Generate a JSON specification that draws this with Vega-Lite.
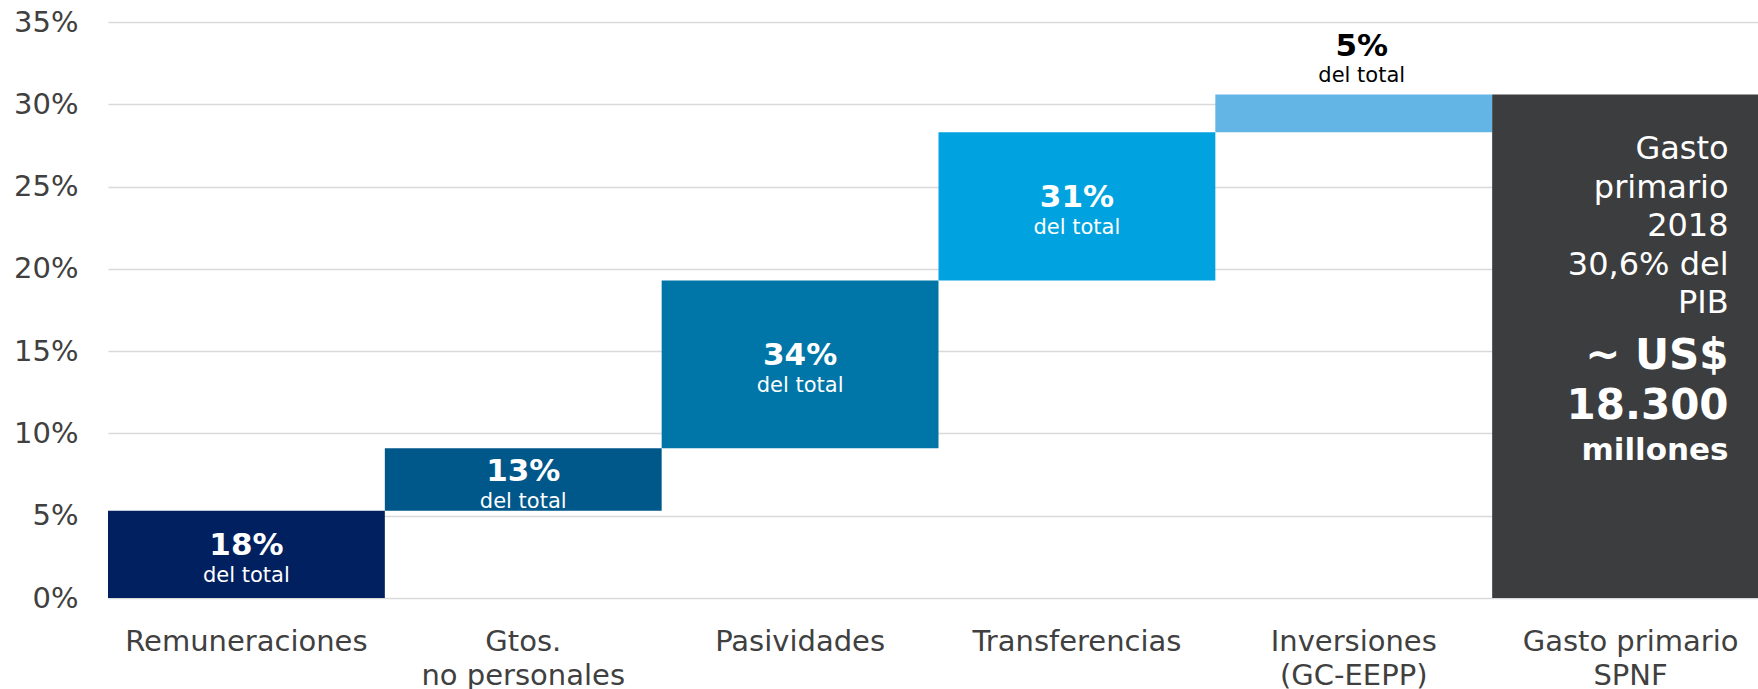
{
  "$schema": "https://vega.github.io/schema/vega-lite/v6.json",
  "autosize": {"type": "none"},
  "padding": {"left": 108, "top": 22, "right": 0, "bottom": 91},
  "width": 1650,
  "height": 576,
  "background": "white",
  "config": {
    "view": {"stroke": null},
    "font": "DejaVu Sans",
    "text": {"font": "DejaVu Sans"}
  },
  "data": {
    "values": [
      {"cat": "Remuneraciones", "start": 0, "end": 5.3, "pct": "18%"},
      {"cat": "Gtos. no personales", "start": 5.3, "end": 9.1, "pct": "13%"},
      {"cat": "Pasividades", "start": 9.1, "end": 19.3, "pct": "34%"},
      {"cat": "Transferencias", "start": 19.3, "end": 28.3, "pct": "31%"},
      {"cat": "Inversiones (GC-EEPP)", "start": 28.3, "end": 30.6, "pct": "5%"},
      {"cat": "Gasto primario SPNF", "start": 0, "end": 30.6, "pct": ""}
    ]
  },
  "encoding": {
    "x": {
      "field": "cat",
      "type": "nominal",
      "sort": null,
      "scale": {"range": [0, 1661], "paddingInner": 0, "paddingOuter": 0},
      "axis": {
        "title": null,
        "labelAngle": 0,
        "ticks": false,
        "domain": false,
        "labelFontSize": 29,
        "labelColor": "#404040",
        "labelPadding": 29,
        "labelLineHeight": 34,
        "labelLimit": 400,
        "labelExpr": "datum.label == 'Gasto primario SPNF' ? ['Gasto primario','SPNF'] : datum.label == 'Inversiones (GC-EEPP)' ? ['Inversiones','(GC-EEPP)'] : datum.label == 'Gtos. no personales' ? ['Gtos.','no personales'] : datum.label"
      }
    }
  },
  "layer": [
    {
      "mark": {"type": "bar", "strokeWidth": 0},
      "encoding": {
        "y": {
          "field": "start",
          "type": "quantitative",
          "scale": {"domain": [0, 35], "nice": false, "zero": true},
          "axis": {
            "title": null,
            "values": [0, 5, 10, 15, 20, 25, 30, 35],
            "labelExpr": "datum.value + '%'",
            "ticks": false,
            "domain": false,
            "grid": true,
            "gridColor": "#d9d9d9",
            "gridWidth": 1.5,
            "labelFontSize": 29,
            "labelColor": "#404040",
            "labelPadding": 30
          }
        },
        "y2": {"field": "end"},
        "color": {
          "field": "cat",
          "type": "nominal",
          "legend": null,
          "scale": {
            "domain": ["Remuneraciones", "Gtos. no personales", "Pasividades", "Transferencias", "Inversiones (GC-EEPP)", "Gasto primario SPNF"],
            "range": ["#002060", "#00578A", "#0076A8", "#00A3E0", "#62B5E5", "#3C3D3F"]
          }
        }
      }
    },
    {
      "transform": [
        {"filter": "datum.cat != 'Inversiones (GC-EEPP)' && datum.cat != 'Gasto primario SPNF'"},
        {"fold": ["start", "end"], "as": ["k", "v"]},
        {"aggregate": [{"op": "mean", "field": "v", "as": "mid"}], "groupby": ["cat", "pct"]}
      ],
      "mark": {"type": "text", "fontSize": 31, "fontWeight": "bold", "color": "white", "baseline": "middle", "align": "center", "dy": -8},
      "encoding": {
        "y": {"field": "mid", "type": "quantitative"},
        "text": {"field": "pct"}
      }
    },
    {
      "transform": [
        {"filter": "datum.cat != 'Inversiones (GC-EEPP)' && datum.cat != 'Gasto primario SPNF'"},
        {"fold": ["start", "end"], "as": ["k", "v"]},
        {"aggregate": [{"op": "mean", "field": "v", "as": "mid"}], "groupby": ["cat", "pct"]}
      ],
      "mark": {"type": "text", "fontSize": 21, "color": "white", "baseline": "middle", "align": "center", "dy": 22, "text": "del total"},
      "encoding": {
        "y": {"field": "mid", "type": "quantitative"}
      }
    },
    {
      "transform": [{"filter": "datum.cat == 'Inversiones (GC-EEPP)'"}],
      "mark": {"type": "text", "fontSize": 31, "fontWeight": "bold", "color": "black", "baseline": "middle", "align": "center", "dx": 8, "dy": -47},
      "encoding": {
        "y": {"field": "end", "type": "quantitative"},
        "text": {"field": "pct"}
      }
    },
    {
      "transform": [{"filter": "datum.cat == 'Inversiones (GC-EEPP)'"}],
      "mark": {"type": "text", "fontSize": 21, "color": "black", "baseline": "middle", "align": "center", "dx": 8, "dy": -18, "text": "del total"},
      "encoding": {
        "y": {"field": "end", "type": "quantitative"}
      }
    },
    {
      "transform": [{"filter": "datum.cat == 'Gasto primario SPNF'"}],
      "mark": {"type": "text", "fontSize": 32, "color": "white", "baseline": "middle", "align": "right", "dx": 98, "dy": 55, "lineHeight": 38.5, "text": ["Gasto", "primario", "2018", "30,6% del", "PIB"]},
      "encoding": {
        "y": {"field": "end", "type": "quantitative"}
      }
    },
    {
      "transform": [{"filter": "datum.cat == 'Gasto primario SPNF'"}],
      "mark": {"type": "text", "fontSize": 42, "fontWeight": "bold", "color": "white", "baseline": "middle", "align": "right", "dx": 98, "dy": 262, "lineHeight": 50, "text": ["~ US$", "18.300"]},
      "encoding": {
        "y": {"field": "end", "type": "quantitative"}
      }
    },
    {
      "transform": [{"filter": "datum.cat == 'Gasto primario SPNF'"}],
      "mark": {"type": "text", "fontSize": 31, "fontWeight": "bold", "color": "white", "baseline": "middle", "align": "right", "dx": 98, "dy": 357, "text": "millones"},
      "encoding": {
        "y": {"field": "end", "type": "quantitative"}
      }
    }
  ]
}
